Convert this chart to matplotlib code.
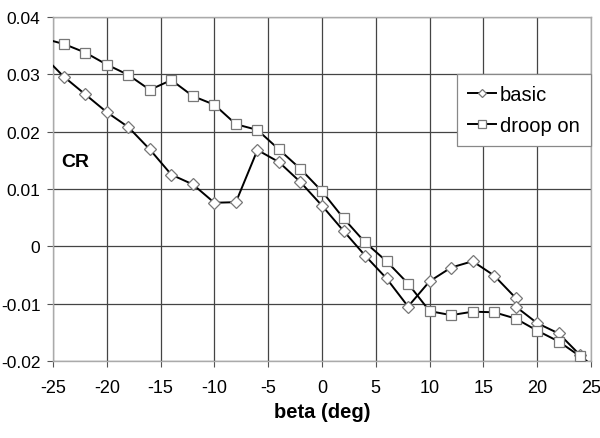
import matplotlib
matplotlib.use("Agg")
import matplotlib.pyplot as plt

plt.rcParams['font.family'] = ['Liberation Sans', 'DejaVu Sans']

# basic
beta_basic = [-25, -24, -22, -20, -18, -16, -14, -12, -10, -8, -6, -4, -2, 0,
              2, 4, 6, 8, 10, 12, 14, 16, 18, 18, 20, 22, 24, 25]
cr_basic = [0.0315, 0.0296, 0.0265, 0.0234, 0.0208, 0.0169, 0.0125, 0.0108, 0.0076, 0.0077,
            0.0168, 0.0147, 0.0112, 0.0071, 0.0027, -0.0016, -0.0056, -0.0105, -0.0061,
            -0.0037, -0.0026, -0.0051, -0.0090, -0.0105, -0.0134, -0.0152, -0.0190, -0.0207]

# droop on
beta_droop = [-25, -24, -22, -20, -18, -16, -14, -12, -10, -8, -6, -4, -2, 0,
              2, 4, 6, 8, 10, 12, 14, 16, 18, 20, 22, 24, 25]
cr_droop = [0.0358, 0.0353, 0.0338, 0.0317, 0.0299, 0.0273, 0.0290, 0.0262, 0.0247, 0.0213,
            0.0203, 0.0169, 0.0135, 0.0096, 0.0049, 0.0007, -0.0026, -0.0065, -0.0113,
            -0.0120, -0.0114, -0.0115, -0.0126, -0.0147, -0.0166, -0.0192, -0.0207]

x_ticks = [-25, -20, -15, -10, -5, 0, 5, 10, 15, 20, 25]
y_ticks = [-0.02, -0.01, 0, 0.01, 0.02, 0.03, 0.04]
y_labels = ['-0.02', '-0.01', '0', '0.01', '0.02', '0.03', '0.04']

fig = plt.figure(figsize=(6.0, 4.39), dpi=100)
ax = fig.add_axes([0.0883, 0.1754, 0.8967, 0.7836])

ax.plot(beta_basic, cr_basic, color='black', lw=1.4, marker='D', ms=6,
        mfc='white', mec='#777777', mew=0.9, markevery=list(range(1, len(beta_basic) - 1)),
        label='basic', zorder=3)
ax.plot(beta_droop, cr_droop, color='black', lw=1.4, marker='s', ms=7.5,
        mfc='white', mec='#777777', mew=0.9, markevery=list(range(1, len(beta_droop) - 1)),
        label='droop on', zorder=3)

ax.set_xlim(-25, 25)
ax.set_ylim(-0.02, 0.04)
ax.set_xticks(x_ticks)
ax.set_xticklabels([str(t) for t in x_ticks])
ax.set_yticks(y_ticks)
ax.set_yticklabels(y_labels)
ax.tick_params(labelsize=13, direction='out', length=4, color='#555555')
ax.tick_params(axis='x', pad=9)
ax.tick_params(axis='y', pad=5, labelsize=12.5)
ax.grid(True, color='#444444', lw=0.9)
ax.set_axisbelow(True)
for s in ax.spines.values():
    s.set_color('#aaaaaa')
    s.set_linewidth(1.0)

ax.set_xlabel('beta (deg)', fontsize=14.5, fontweight='bold', labelpad=4)
ax.text(-24.2, 0.0148, 'CR', fontsize=14, fontweight='bold', va='center', ha='left')

leg = ax.legend(loc='upper right', bbox_to_anchor=(1.0, 0.835), fontsize=14.5,
                frameon=True, fancybox=False, borderpad=0.55, handlelength=1.4,
                handletextpad=0.2, labelspacing=0.6, borderaxespad=0, markerscale=0.75)
leg.get_frame().set_edgecolor('#888888')
leg.get_frame().set_linewidth(0.9)
leg.get_frame().set_alpha(1)

fig.savefig('out.png', dpi=100)
